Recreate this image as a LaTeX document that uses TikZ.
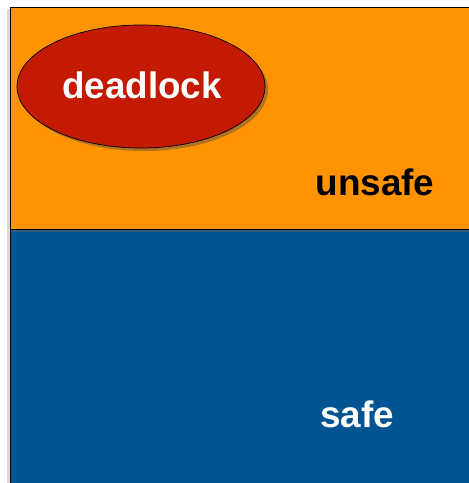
\documentclass[tikz,border=0pt]{standalone}
\usepackage{fontspec}
\setmainfont{Liberation Sans}
\usetikzlibrary{shapes.geometric,shadows}
\definecolor{unsafeorange}{RGB}{255,147,0}
\definecolor{safeblue}{RGB}{2,83,146}
\definecolor{lockred}{RGB}{196,26,2}
\tikzset{
	statelabel/.style={anchor=base, font=\bfseries\fontsize{37}{44}\selectfont, inner sep=0pt},
	lockshape/.style={ellipse, draw=black, line width=0.7pt, fill=lockred, inner sep=0pt,
		minimum width=248bp, minimum height=123bp,
		drop shadow={shadow xshift=3bp, shadow yshift=-3bp, opacity=0.45, fill=black!70}}
}

\begin{document}
\begin{tikzpicture}[x=1bp, y=-1bp]
		%%%%% START %%%%%
		
		\useasboundingbox (0, 0) rectangle (469, 483);
		\clip (0, 0) rectangle (469, 483);
		
		\fill[black!15] (7, 9) rectangle (10, 490);
		\draw[fill=unsafeorange, line width=0.7pt] (10, 7) rectangle (480, 229);
		\draw[fill=safeblue, line width=0.7pt] (10, 229) rectangle (480, 495);
		\fill[black!60, opacity=0.5] (10.5, 230) rectangle (480, 232);
		
		\node[lockshape] (deadlock) at (141, 86.5) {};
		\node[statelabel, white] (deadlocktext) at (142, 98.3) {deadlock};
		
		\node[statelabel, black] (unsafe) at (375, 195) {unsafe};
		\node[statelabel, white] (safe) at (357, 427.3) {safe};
		
		%%%%% END %%%%%
	\end{tikzpicture}
\end{document}
